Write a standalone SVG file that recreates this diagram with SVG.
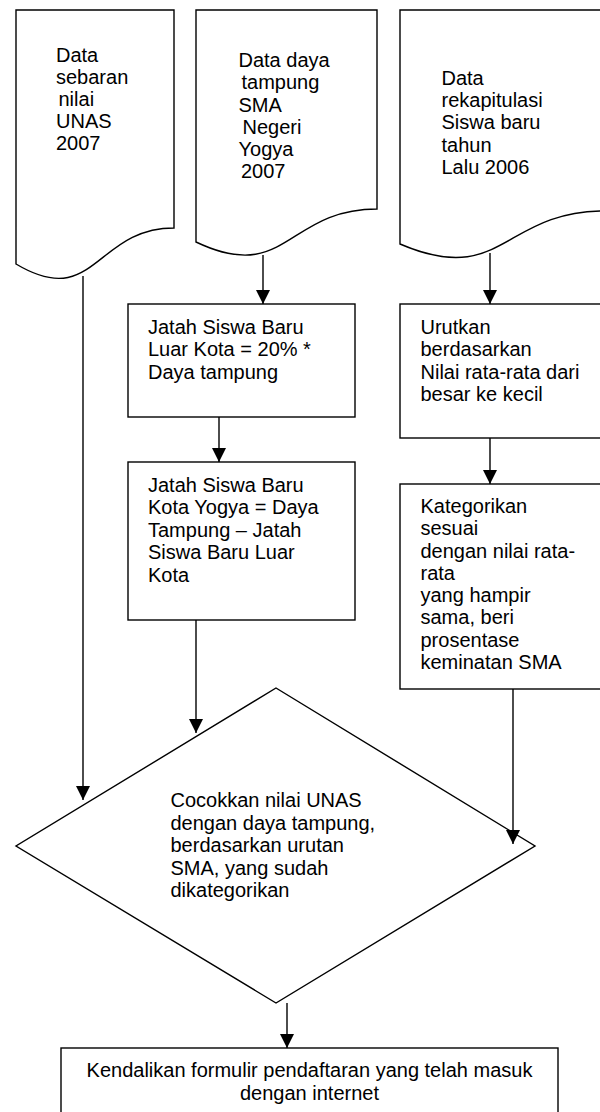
<svg xmlns="http://www.w3.org/2000/svg" width="600" height="1112" viewBox="0 0 600 1112">
<style>
.s{fill:#fff;stroke:#000;stroke-width:1.4}
.t{font-family:"Liberation Sans",Arial,sans-serif;font-size:20px;fill:#000}
.c{fill:none;stroke:#000;stroke-width:1.4}
</style>
<defs>
<marker id="ah" markerUnits="userSpaceOnUse" markerWidth="14" markerHeight="14" viewBox="0 0 14 14" refX="14" refY="7" orient="auto">
<path d="M0,0 L14,7 L0,14 z" fill="#000"/>
</marker>
</defs>
<rect width="600" height="1112" fill="#fff"/>

<g id="doc1">
<path class="s" d="M16,10 L174,10 L174,228 C95,228 95,311 16,264 Z"/>
<text class="t"><tspan x="56" y="62">Data</tspan><tspan x="56" y="84">sebaran</tspan><tspan x="58.5" y="106">nilai</tspan><tspan x="56" y="128">UNAS</tspan><tspan x="56" y="150">2007</tspan></text>
</g>

<g id="doc2">
<path class="s" d="M196,10 L377,10 L377,209 C286.5,209 286.5,285 196,242 Z"/>
<text class="t"><tspan x="238.5" y="67">Data daya</tspan><tspan x="241.5" y="89">tampung</tspan><tspan x="238.5" y="111.5">SMA</tspan><tspan x="242.5" y="133.5">Negeri</tspan><tspan x="238.5" y="155.5">Yogya</tspan><tspan x="241" y="177.5">2007</tspan></text>
</g>

<g id="doc3">
<path class="s" d="M400,10 L605,10 L605,211 C502.5,211 502.5,288 400,244 Z"/>
<text class="t"><tspan x="441.5" y="85">Data</tspan><tspan x="441.5" y="107">rekapitulasi</tspan><tspan x="441.5" y="129">Siswa baru</tspan><tspan x="441.5" y="151.5">tahun</tspan><tspan x="441.5" y="173.5">Lalu 2006</tspan></text>
</g>

<g id="box1">
<rect class="s" x="128" y="304" width="227" height="113"/>
<text class="t"><tspan x="148" y="333.5">Jatah Siswa Baru</tspan><tspan x="148" y="356">Luar Kota = 20% *</tspan><tspan x="148" y="378.5">Daya tampung</tspan></text>
</g>

<g id="box2">
<rect class="s" x="128" y="462" width="227" height="158"/>
<text class="t"><tspan x="148" y="491.5">Jatah Siswa Baru</tspan><tspan x="148" y="514">Kota Yogya = Daya</tspan><tspan x="148" y="536.5">Tampung – Jatah</tspan><tspan x="148" y="559">Siswa Baru Luar</tspan><tspan x="148" y="581.5">Kota</tspan></text>
</g>

<g id="box3">
<rect class="s" x="400" y="304" width="210" height="134"/>
<text class="t"><tspan x="420.5" y="333.5">Urutkan</tspan><tspan x="420.5" y="356">berdasarkan</tspan><tspan x="420.5" y="378.5">Nilai rata-rata dari</tspan><tspan x="420.5" y="400.5">besar ke kecil</tspan></text>
</g>

<g id="box4">
<rect class="s" x="400" y="484" width="210" height="205"/>
<text class="t"><tspan x="420.5" y="513">Kategorikan</tspan><tspan x="420.5" y="535">sesuai</tspan><tspan x="420.5" y="557.5">dengan nilai rata-</tspan><tspan x="420.5" y="579.5">rata</tspan><tspan x="420.5" y="602">yang hampir</tspan><tspan x="420.5" y="624">sama, beri</tspan><tspan x="420.5" y="646.5">prosentase</tspan><tspan x="420.5" y="669">keminatan SMA</tspan></text>
</g>

<g id="decision">
<path class="s" d="M276,688 L535,846 L276,1003 L16,846 Z"/>
<text class="t"><tspan x="170.5" y="807">Cocokkan nilai UNAS</tspan><tspan x="170.5" y="829.5">dengan daya tampung,</tspan><tspan x="170.5" y="852">berdasarkan urutan</tspan><tspan x="170.5" y="874.5">SMA, yang sudah</tspan><tspan x="170.5" y="897">dikategorikan</tspan></text>
</g>

<g id="final">
<rect class="s" x="61" y="1048" width="497" height="80"/>
<text class="t" text-anchor="middle"><tspan x="309.5" y="1077">Kendalikan formulir pendaftaran yang telah masuk</tspan><tspan x="309.5" y="1099.5">dengan internet</tspan></text>
</g>

<g id="connectors">
<path class="c" d="M83,276 V800" marker-end="url(#ah)"/>
<path class="c" d="M263,255 V304" marker-end="url(#ah)"/>
<path class="c" d="M219,417 V462" marker-end="url(#ah)"/>
<path class="c" d="M196,620 V733" marker-end="url(#ah)"/>
<path class="c" d="M490,253 V304" marker-end="url(#ah)"/>
<path class="c" d="M490,438 V484" marker-end="url(#ah)"/>
<path class="c" d="M513,689 V844" marker-end="url(#ah)"/>
<path class="c" d="M287,1003 V1048" marker-end="url(#ah)"/>
</g>
</svg>
